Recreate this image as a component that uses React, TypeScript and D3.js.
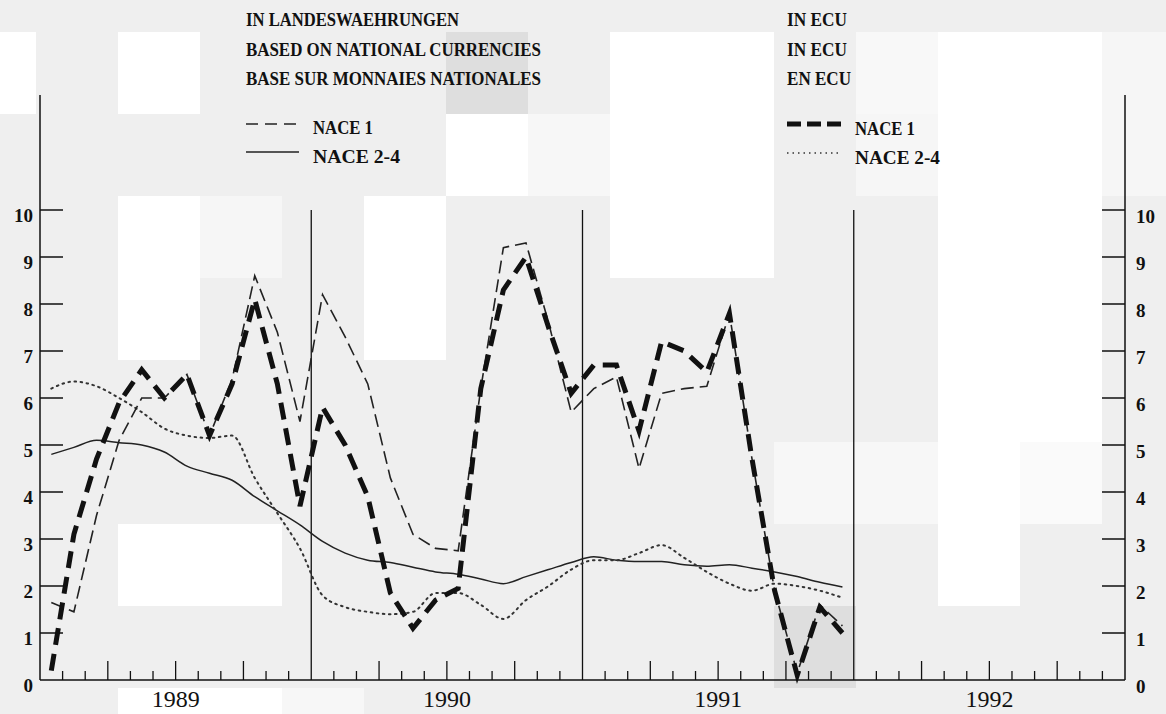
import React from "react";
import * as d3 from "d3";

// ---- data (monthly values, Jan 1989 .. Dec 1991) ----
const nace1National = [1.65, 1.45, 3.5, 5.1, 6.0, 6.0, 6.5, 5.2, 6.4, 8.6, 7.4, 5.5,
  8.2, 7.3, 6.3, 4.3, 3.1, 2.8, 2.75, 6.2, 9.2, 9.3, 7.6, 5.7,
  6.2, 6.45, 4.5, 6.1, 6.2, 6.25, 7.8, 4.7, 1.9, 0.15, 1.6, 1.15];
const nace24National = [4.8, 4.95, 5.1, 5.05, 5.0, 4.85, 4.55, 4.4, 4.25, 3.9, 3.6, 3.3,
  2.95, 2.7, 2.55, 2.5, 2.4, 2.3, 2.25, 2.15, 2.05, 2.2, 2.35, 2.5,
  2.62, 2.55, 2.52, 2.52, 2.45, 2.42, 2.45, 2.38, 2.3, 2.2, 2.08, 1.98];
const nace1Ecu = [0.2, 3.1, 4.7, 5.9, 6.6, 6.0, 6.5, 5.2, 6.3, 8.1, 6.3, 3.7,
  5.8, 5.0, 3.9, 1.85, 1.1, 1.7, 1.95, 6.2, 8.3, 9.0, 7.5, 6.1,
  6.7, 6.7, 5.3, 7.2, 7.0, 6.55, 7.8, 4.7, 1.9, 0.1, 1.55, 1.0];
const nace24Ecu = [6.2, 6.35, 6.25, 6.0, 5.7, 5.35, 5.2, 5.15, 5.2, 4.3, 3.55, 2.8,
  1.8, 1.55, 1.45, 1.4, 1.45, 1.85, 1.85, 1.6, 1.3, 1.7, 2.0, 2.35,
  2.55, 2.55, 2.7, 2.87, 2.6, 2.3, 2.05, 1.9, 2.05, 2.0, 1.9, 1.75];

const years = ["1989", "1990", "1991", "1992"];
const yTicks = [0, 1, 2, 3, 4, 5, 6, 7, 8, 9, 10];
const headerLeft = ["IN LANDESWAEHRUNGEN", "BASED ON NATIONAL CURRENCIES", "BASE SUR MONNAIES NATIONALES"];
const headerRight = ["IN ECU", "IN ECU", "EN ECU"];
const legendLabels = ["NACE 1", "NACE 2-4"];

// background scan tiles (grid col,row,shade)
const bgTiles: [number, number, string][] = [
  [-1, 0, "#fff"], [1, 0, "#fff"], [7, 0, "#fff"], [8, 0, "#fff"], [11, 0, "#fff"], [12, 0, "#fff"],
  [5, 1, "#fff"], [7, 1, "#fff"], [8, 1, "#fff"], [11, 1, "#fff"], [12, 1, "#fff"],
  [1, 2, "#fff"], [4, 2, "#fff"], [7, 2, "#fff"], [8, 2, "#fff"], [11, 2, "#fff"], [12, 2, "#fff"],
  [1, 3, "#fff"], [4, 3, "#fff"], [11, 3, "#fff"], [12, 3, "#fff"],
  [11, 4, "#fff"], [12, 4, "#fff"], [11, 5, "#fff"], [1, 6, "#fff"], [2, 6, "#fff"], [11, 6, "#fff"],
  [1, 8, "#fff"], [2, 8, "#fff"],
  [10, 0, "#f8f8f8"], [10, 1, "#f6f6f6"], [6, 1, "#f7f7f7"], [2, 2, "#f6f6f6"], [9, 5, "#f7f7f7"],
  [10, 5, "#f7f7f7"], [12, 5, "#fafafa"], [3, 8, "#f7f7f7"], [13, 0, "#f6f6f6"], [13, 1, "#f6f6f6"],
  [5, 0, "#dedede"], [9, 7, "#dedede"],
];

const W = 1166, H = 714;
const X0 = 40, X1 = 1125, Y0 = 680, Y10 = 210;
const FONT = "'Liberation Serif', 'DejaVu Serif', serif";

export default function App() {
  const x = d3.scaleLinear().domain([0, 48]).range([X0, X1]);
  const y = d3.scaleLinear().domain([0, 10]).range([Y0, Y10]);
  const mk = (curve: d3.CurveFactory) =>
    d3.line<number>().x((_, i) => x(i + 0.5)).y((v) => y(v)).curve(curve);
  const lin = mk(d3.curveLinear);
  const smooth = mk(d3.curveMonotoneX);

  const monthTicks = d3.range(1, 48).filter((m) => m % 12 !== 0);
  const yearLines = [12, 24, 36];

  const leftWidths = [213, 295, 295];
  const rightWidths = [60, 60, 64];
  const lineY = [26, 56, 85];

  return (
    <svg width={W} height={H} style={{ position: "absolute", left: 0, top: 0 }}>
      <rect x={0} y={0} width={W} height={H} fill="#efefef" />
      {bgTiles.map(([c, r, f], i) => (
        <rect key={i} x={36 + 82 * c} y={32 + 82 * r} width={82} height={82} fill={f} />
      ))}

      {/* headers */}
      {headerLeft.map((t, i) => (
        <text key={"hl" + i} x={246} y={lineY[i]} fontFamily={FONT} fontWeight="bold" fontSize={19}
          textLength={leftWidths[i]} lengthAdjust="spacingAndGlyphs" fill="#111">{t}</text>
      ))}
      {headerRight.map((t, i) => (
        <text key={"hr" + i} x={787} y={lineY[i]} fontFamily={FONT} fontWeight="bold" fontSize={19}
          textLength={rightWidths[i]} lengthAdjust="spacingAndGlyphs" fill="#111">{t}</text>
      ))}

      {/* legends */}
      <line x1={246} x2={298} y1={124} y2={124} stroke="#222" strokeWidth={1.5} strokeDasharray="12,7" />
      <line x1={246} x2={299} y1={152} y2={152} stroke="#222" strokeWidth={1.5} />
      <line x1={787} x2={842} y1={124} y2={124} stroke="#111" strokeWidth={5} strokeDasharray="14,6" />
      <line x1={787} x2={838} y1={153} y2={153} stroke="#333" strokeWidth={1.5} strokeDasharray="1.5,4" />
      {legendLabels.map((t, i) => (
        <text key={"ll" + i} x={313} y={134 + 29 * i} fontFamily={FONT} fontWeight="bold" fontSize={19}
          textLength={i === 0 ? 60 : 87} lengthAdjust="spacingAndGlyphs" fill="#111">{t}</text>
      ))}
      {legendLabels.map((t, i) => (
        <text key={"lr" + i} x={855} y={135 + 29 * i} fontFamily={FONT} fontWeight="bold" fontSize={19}
          textLength={i === 0 ? 60 : 85} lengthAdjust="spacingAndGlyphs" fill="#111">{t}</text>
      ))}

      {/* axes */}
      <line x1={X0} x2={X0} y1={95} y2={Y0} stroke="#111" strokeWidth={1.5} />
      <line x1={X1} x2={X1} y1={95} y2={Y0} stroke="#111" strokeWidth={1.5} />
      <line x1={X0} x2={X1} y1={Y0} y2={Y0} stroke="#111" strokeWidth={1.5} />
      {yearLines.map((m) => (
        <line key={"yl" + m} x1={x(m)} x2={x(m)} y1={Y10} y2={Y0} stroke="#111" strokeWidth={1.3} />
      ))}
      {monthTicks.map((m) => (
        <line key={"mt" + m} x1={x(m)} x2={x(m)} y1={Y0} y2={Y0 - (m % 3 === 0 ? 19 : 9)}
          stroke="#111" strokeWidth={1.3} />
      ))}
      {yTicks.map((v) => (
        <g key={"yt" + v}>
          {v > 0 && <line x1={X0} x2={X0 + 23} y1={y(v)} y2={y(v)} stroke="#111" strokeWidth={1.5} />}
          {v > 0 && <line x1={X1 - 23} x2={X1} y1={y(v)} y2={y(v)} stroke="#111" strokeWidth={1.5} />}
          <text x={33} y={y(v) + 11.5} textAnchor="end" fontFamily={FONT} fontWeight="bold" fontSize={19}
            fill="#111">{v}</text>
          <text x={1136} y={y(v) + 13} textAnchor="start" fontFamily={FONT} fontWeight="bold" fontSize={19}
            fill="#111">{v}</text>
        </g>
      ))}
      {years.map((t, i) => (
        <text key={t} x={x(12 * i + 6)} y={707} textAnchor="middle" fontFamily={FONT} fontSize={24}
          textLength={48} lengthAdjust="spacingAndGlyphs" fill="#111">{t}</text>
      ))}

      {/* series */}
      <path d={smooth(nace24National) || ""} fill="none" stroke="#222" strokeWidth={1.5} />
      <path d={smooth(nace24Ecu) || ""} fill="none" stroke="#333" strokeWidth={2} strokeDasharray="1.6,4.5"
        strokeLinecap="round" />
      <path d={lin(nace1National) || ""} fill="none" stroke="#222" strokeWidth={1.6} strokeDasharray="13,6" />
      <path d={lin(nace1Ecu) || ""} fill="none" stroke="#111" strokeWidth={5} strokeDasharray="17,9" />
    </svg>
  );
}
